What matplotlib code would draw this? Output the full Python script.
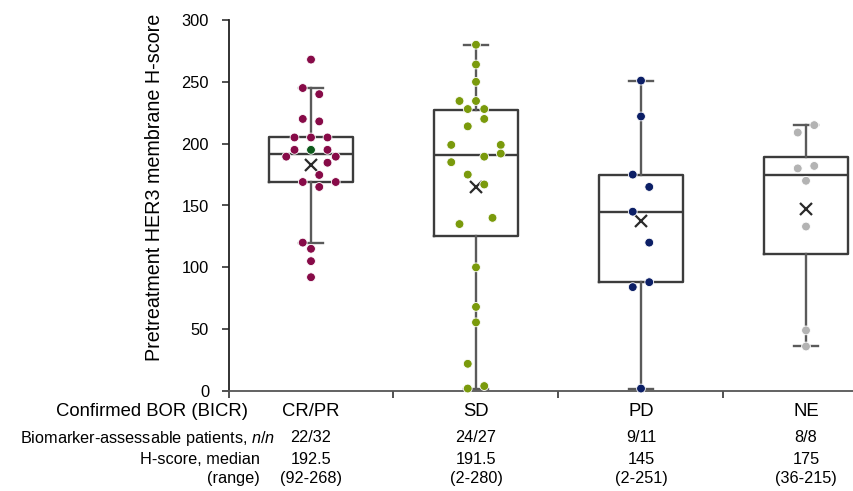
import matplotlib
matplotlib.use("Agg")
import matplotlib.pyplot as plt
from matplotlib import transforms

plt.rcParams['font.family'] = ['Liberation Sans', 'DejaVu Sans']
plt.rcParams['mathtext.fontset'] = 'custom'
plt.rcParams['mathtext.rm'] = 'Liberation Sans'
plt.rcParams['mathtext.it'] = 'Liberation Sans:italic'

# ---------------- data ----------------
categories = ["CR/PR", "SD", "PD", "NE"]
n_assessable = ["22/32", "24/27", "9/11", "8/8"]
median_text = ["192.5", "191.5", "145", "175"]
range_text = ["(92-268)", "(2-280)", "(2-251)", "(36-215)"]

crpr_values = [268, 245, 240, 220, 218, 205, 205, 205, 195, 195, 195,
               189.5, 189.5, 184.6, 174.7, 169, 169, 165, 120, 115, 105, 92]
sd_values = [280, 264, 250, 234.5, 234.5, 228, 228, 220, 214, 199, 199,
             192, 189.5, 185, 175, 167, 140, 135, 100, 68, 55.5, 22, 2, 4]
pd_values = [251, 222, 175, 165, 145, 120, 88, 84, 2]
ne_values = [215, 209, 182, 180, 170, 133, 49, 36]

# swarm slot of each point (layout, same order as values)
crpr_slots = [0, -1, 1, -1, 1, -2, 0, 2, -2, 0, 2, -3, 3, 2, 1, -1, 3, 1, -1, 0, 0, 0]
sd_slots = [0, 0, 0, -2, 0, -1, 1, 1, -1, -3, 3, 3, 1, -3, -1, 1, 2, -2, 0, 0, 0, -1, -1, 1]
pd_slots = [0, 0, -1, 1, -1, 1, 1, -1, 0]
ne_slots = [1, -1, 1, -1, 0, 0, 0, 0]

# box statistics
whis_lo = [120, 2, 2, 36]
q1 = [169, 125, 88, 111]
medians = [192, 191, 144.5, 175]
q3 = [205, 227, 175, 189]
whis_hi = [245, 280, 251, 215]
means = [183, 165, 137.5, 147]

point_colors = ["#870b48", "#7a9a0c", "#0c1f66", "#b3b3b3"]
crpr_highlight_index = 9  # the single dark-green point

# ---------------- figure ----------------
W, H = 854, 491
fig = plt.figure(figsize=(W / 100, H / 100), dpi=100)
ax = fig.add_axes([228.5 / W, 100 / H, 660 / W, 371 / H])

positions = [1, 2, 3, 4]
stats = []
for i in range(4):
    stats.append(dict(whislo=whis_lo[i], q1=q1[i], med=medians[i], q3=q3[i],
                      whishi=whis_hi[i], mean=means[i], fliers=[]))

edge = "#3c3c3c"
wcol = "#5a5a5a"
ax.bxp(stats, positions=positions, widths=0.51, capwidths=0.15,
       showmeans=True, showfliers=False, patch_artist=False,
       boxprops=dict(color=edge, linewidth=1.7),
       medianprops=dict(color=edge, linewidth=1.7),
       whiskerprops=dict(color=wcol, linewidth=1.7),
       capprops=dict(color=wcol, linewidth=1.7),
       meanprops=dict(marker="x", markeredgecolor="#2a2a2a", markersize=9,
                      markeredgewidth=1.6),
       zorder=2)

slot_w = 0.05
groups = [crpr_values, sd_values, pd_values, ne_values]
slots = [crpr_slots, sd_slots, pd_slots, ne_slots]
for i, (vals, sl) in enumerate(zip(groups, slots)):
    xs = [positions[i] + s * slot_w for s in sl]
    cols = [point_colors[i]] * len(vals)
    if i == 0:
        cols[crpr_highlight_index] = "#0e5a1c"
    ax.scatter(xs, vals, s=40, c=cols, edgecolors="white", linewidths=0.6,
               zorder=4, clip_on=False)

ax.set_xlim(0.5, 4.5)
ax.set_ylim(0, 300)
ax.set_yticks(range(0, 301, 50))
ax.set_xticks([0.5, 1.5, 2.5, 3.5, 4.5])
ax.set_xticklabels([])
ax.tick_params(axis="y", direction="out", length=5, width=1.2, color="#333333",
               labelsize=11.8, pad=9)
ax.tick_params(axis="x", direction="out", length=5, width=1.2, color="#333333")
for s in ["top", "right"]:
    ax.spines[s].set_visible(False)
ax.spines["left"].set_color("#222222")
ax.spines["left"].set_linewidth(1.3)
ax.spines["bottom"].set_color("#555555")
ax.spines["bottom"].set_linewidth(1.3)

fig.text(155 / W, 1 - 187.5 / H, "Pretreatment HER3 membrane H-score",
         rotation=90, ha="center", va="center", fontsize=14.2)

# table under the axis
trans = transforms.blended_transform_factory(ax.transData, fig.transFigure)
rows_y = [411, 438, 460, 479]
row_labels = ["Confirmed BOR (BICR)", r"Biomarker-assessable patients, $\mathit{n/n}$",
              "H-score, median", "(range)"]
row_right = [248, 275, 260, 260]
row_sizes = [13.3, 11.7, 11.7, 11.7]
for lab, yy, xr, fs in zip(row_labels, rows_y, row_right, row_sizes):
    fig.text(xr / W, 1 - yy / H, lab, ha="right", va="center", fontsize=fs)

columns = [categories, n_assessable, median_text, range_text]
for col, yy, fs in zip(columns, rows_y, row_sizes):
    for i, t in enumerate(col):
        ax.text(positions[i], 1 - yy / H, t, transform=trans, ha="center",
                va="center", fontsize=fs)

fig.savefig("out.png", dpi=100)
